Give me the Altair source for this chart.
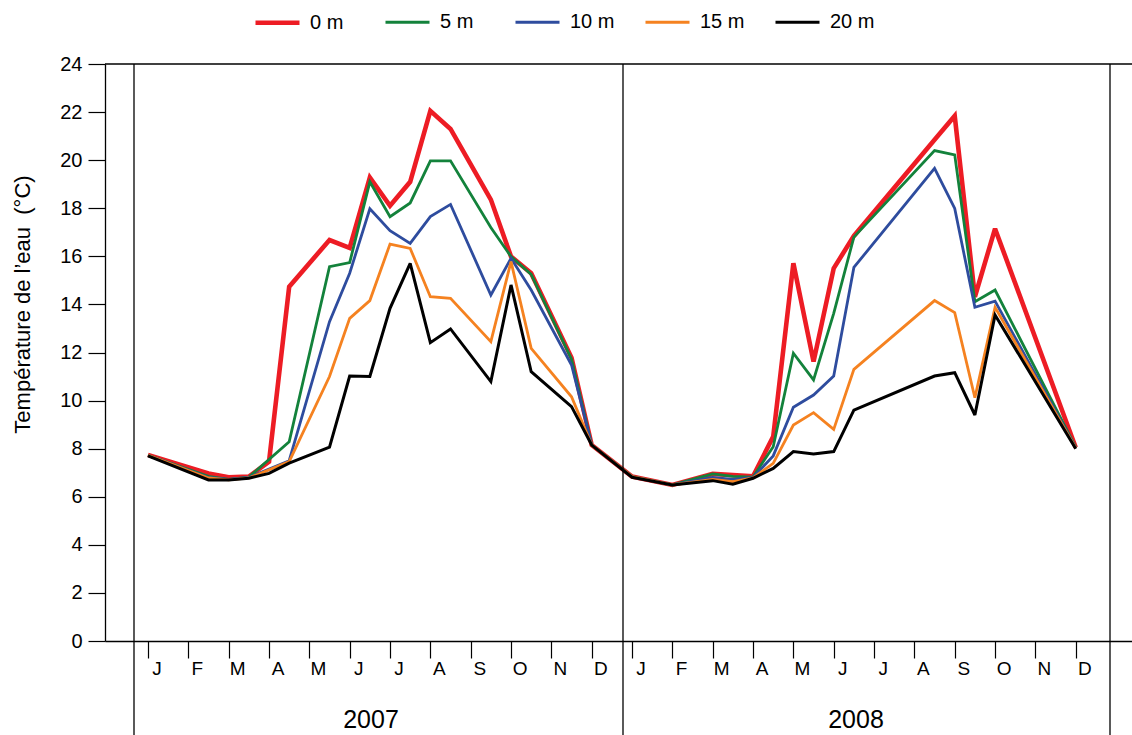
import altair as alt
import pandas as pd

# Sampling positions, in half-month steps from January 2007 (0) to December 2008 (47)
half_month = [0, 3, 4, 5, 6, 7, 9, 10, 11, 12, 13, 14, 15, 17, 18, 19, 21, 22,
              24, 26, 28, 29, 30, 31, 32, 33, 34, 35, 39, 40, 41, 42, 46]

# Water temperature (°C) at each depth; None where no sample is drawn
temp_0m = [7.74, 6.97, 6.81, 6.84, 7.46, 14.74, 16.68, 16.35, 19.28, 18.10, 19.10, 22.05, 21.30,
           18.36, 15.99, 15.30, 11.78, 8.15,
           6.84, 6.49, 6.95, 6.90, 6.85, 8.50, 15.71, 11.62, 15.50, 16.85, 20.85, 21.84, 14.32, 17.15, 8.05]
temp_5m = [7.72, 6.85, 6.72, 6.82, None, 8.29, 15.57, 15.74, 19.10, 17.65, 18.22, 19.97, 19.97,
           17.20, 15.99, 15.25, 11.72, 8.15,
           6.84, 6.49, 6.95, 6.85, 6.82, 8.08, 11.97, 10.86, 13.63, 16.80, 20.40, 20.22, 14.11, 14.60, 8.05]
temp_10m = [7.72, 6.80, 6.72, 6.80, None, 7.50, 13.28, 15.30, 17.98, 17.07, 16.54, 17.65, 18.16,
            14.39, 15.92, 14.60, 11.48, 8.15,
            6.84, 6.49, 6.80, 6.72, 6.80, 7.70, 9.72, 10.23, 11.02, 15.54, 19.66, 17.99, 13.88, 14.14, 8.03]
temp_15m = [7.72, 6.78, 6.70, 6.78, None, 7.46, 11.00, 13.42, 14.16, 16.51, 16.33, 14.32, 14.25,
            12.45, 15.78, 12.17, 10.16, 8.15,
            6.84, 6.49, 6.72, 6.63, 6.78, 7.39, 8.98, 9.50, 8.80, 11.30, 14.16, 13.66, 10.12, 13.88, 8.02]
temp_20m = [7.70, 6.70, 6.70, 6.77, 6.97, 7.40, 8.06, 11.02, 11.00, 13.84, 15.71, 12.41, 12.98,
            10.79, 14.81, 11.20, 9.75, 8.15,
            6.81, 6.49, 6.67, 6.52, 6.77, 7.18, 7.88, 7.78, 7.88, 9.60, 11.02, 11.16, 9.40, 13.56, 8.00]

depth_labels = ["0 m", "5 m", "10 m", "15 m", "20 m"]
line_colors = ["#ED1C24", "#13823B", "#2E4C9E", "#F58220", "#000000"]
line_widths = [4.6, 2.8, 2.8, 2.8, 3.0]

month_letters = ["J", "F", "M", "A", "M", "J", "J", "A", "S", "O", "N", "D"]
year_labels = ["2007", "2008"]
y_ticks = list(range(0, 25, 2))
x_ticks = list(range(0, 48))

FONT = "Liberation Sans"
W, H = 1027, 577

rows = []
for label, series in zip(depth_labels, [temp_0m, temp_5m, temp_10m, temp_15m, temp_20m]):
    for pos, val in zip(half_month, series):
        if val is not None:
            rows.append({"pos": pos, "temp": val, "depth": label})
df = pd.DataFrame(rows)

months_df = pd.DataFrame({
    "pos": [2 * i + 0.45 for i in range(24)],
    "letter": month_letters * 2,
})
years_df = pd.DataFrame({"year": year_labels, "px": [266, 751]})

x_scale = alt.Scale(domain=[-2.132, 48.79], nice=False, zero=False)
y_scale = alt.Scale(domain=[0, 24], nice=False, zero=True)

legend_opts = dict(
    title=None, orient="none", legendX=148, legendY=-66, direction="horizontal",
    columns=5, symbolType="stroke", symbolSize=1936, gridAlign="all",
    columnPadding=24, labelFontSize=20, labelFont=FONT, labelColor="#000",
    labelOffset=8, padding=0,
)
color_enc = alt.Color(
    "depth:N",
    scale=alt.Scale(domain=depth_labels, range=line_colors),
    legend=alt.Legend(**legend_opts),
)
width_enc = alt.StrokeWidth(
    "depth:N",
    scale=alt.Scale(type="ordinal", domain=depth_labels, range=line_widths),
    legend=alt.Legend(**legend_opts),
)

base = alt.Chart(df)

axes_layer = base.mark_line(opacity=0).encode(
    x=alt.X("pos:Q", scale=x_scale,
            axis=alt.Axis(values=x_ticks, labels=False, title=None, grid=False,
                          tickSize=17, tickColor="#000", domainColor="#000",
                          domainWidth=1.3, tickWidth=1.2)),
    y=alt.Y("temp:Q", scale=y_scale,
            axis=alt.Axis(values=y_ticks, grid=False, tickSize=17, tickColor="#000",
                          domainColor="#000", domainWidth=1.3, tickWidth=1.2,
                          labelFontSize=20, labelFont=FONT, labelColor="#000",
                          labelPadding=6,
                          title="Température de l’eau\u00a0 (°C)",
                          titleFont=FONT, titleFontSize=22, titleFontWeight="normal",
                          titleColor="#000", titleAngle=270, titleAlign="center",
                          titleBaseline="middle", titleX=-83, titleY=240)),
)

line_layers = []
for label in depth_labels:
    line_layers.append(
        base.transform_filter(alt.datum.depth == label).mark_line(strokeJoin="miter", strokeMiterLimit=3).encode(
            x=alt.X("pos:Q", scale=x_scale),
            y=alt.Y("temp:Q", scale=y_scale),
            color=color_enc,
            strokeWidth=width_enc,
        )
    )

top_rule = alt.Chart(pd.DataFrame({"k": [0]})).mark_rule(color="#000", strokeWidth=1.3).encode(
    x=alt.value(0), x2=alt.value(W), y=alt.value(0)
)

divider_df = pd.DataFrame({"px": [29, 518, 1005]})
dividers = alt.Chart(divider_df).mark_rule(color="#000", strokeWidth=1.3).encode(
    x=alt.X("px:Q", scale=None), y=alt.value(0), y2=alt.value(H + 94)
)

month_text = alt.Chart(months_df).mark_text(
    font=FONT, fontSize=19, color="#000", baseline="middle", align="center"
).encode(
    x=alt.X("pos:Q", scale=x_scale), y=alt.value(H + 28), text="letter:N"
)

year_text = alt.Chart(years_df).mark_text(
    font=FONT, fontSize=25, color="#000", baseline="middle", align="center"
).encode(
    x=alt.X("px:Q", scale=None), y=alt.value(H + 79), text="year:N"
)

chart = alt.layer(
    axes_layer, *line_layers, top_rule, dividers, month_text, year_text
).resolve_scale(x="shared").properties(
    width=W, height=H,
    autosize=alt.AutoSizeParams(type="none"),
    padding={"left": 105, "top": 64, "right": 0, "bottom": 94},
    background="white",
).configure_view(stroke=None)

chart.save("out.html", embed_options={"renderer": "svg", "actions": False})
